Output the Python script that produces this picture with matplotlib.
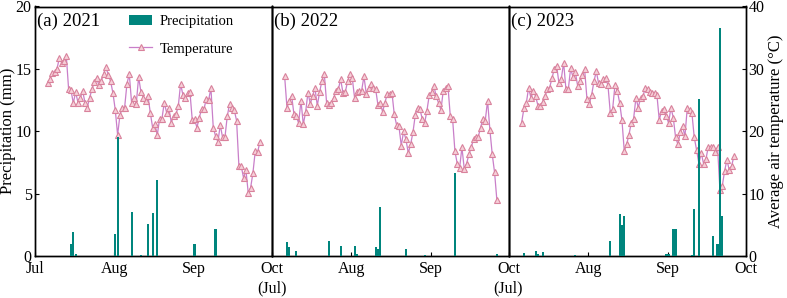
import numpy as np
import matplotlib
matplotlib.use("Agg")
import matplotlib.pyplot as plt
from matplotlib.patches import Patch
from matplotlib.lines import Line2D

plt.rcParams['font.family'] = ['Liberation Serif', 'DejaVu Serif']
plt.rcParams['mathtext.fontset'] = 'stix'

years = ["(a) 2021", "(b) 2022", "(c) 2023"]

temp_2021 = [27.7, 28.3, 29.4, 29.5, 30.0, 31.7, 31.0, 31.2, 32.1, 26.7,
             26.6, 24.5, 26.3, 24.6, 25.3, 26.5, 24.6, 23.8, 25.4, 26.7,
             27.9, 28.5, 27.4, 28.1, 29.2, 30.3, 29.0, 28.0, 26.1, 23.4,
             19.4, 22.6, 23.7, 23.8, 27.6, 29.2, 24.5, 25.3, 24.4, 28.7,
             26.3, 25.4, 24.9, 25.7, 23.0, 20.6, 21.1, 19.4, 22.0, 22.0,
             24.6, 23.0, 23.7, 21.4, 22.5, 22.7, 24.0, 27.6, 25.8, 25.3,
             26.1, 26.3, 21.8, 21.9, 20.6, 22.2, 23.5, 23.5, 25.2, 25.0,
             26.9, 20.6, 19.2, 18.3, 21.0, 19.0, 19.0, 22.4, 24.4, 23.7,
             23.4, 21.7, 14.4, 14.4, 12.5, 13.8, 10.1, 10.9, 13.3, 16.8,
             16.6, 18.3]
temp_2022 = [28.8, 23.8, 24.9, 25.7, 22.7, 22.4, 21.3, 24.9, 21.1, 23.1,
             26.2, 24.4, 25.7, 26.9, 24.1, 26.3, 28.1, 29.2, 24.5, 24.2,
             24.5, 25.3, 26.5, 26.7, 28.3, 26.2, 26.3, 28.0, 29.2, 28.5,
             25.3, 26.3, 26.5, 26.5, 28.8, 26.0, 26.9, 27.6, 26.9, 26.8,
             24.2, 24.6, 23.1, 24.6, 26.0, 26.0, 26.2, 22.7, 21.0, 20.8,
             17.7, 20.0, 18.7, 16.5, 17.9, 19.8, 22.6, 23.8, 23.5, 22.0,
             21.3, 23.3, 25.8, 26.3, 27.2, 25.6, 24.5, 23.4, 26.5, 27.0,
             27.3, 22.5, 22.0, 16.8, 14.8, 14.1, 17.4, 14.0, 14.8, 16.3,
             17.4, 18.8, 19.0, 19.1, 20.6, 22.0, 21.7, 24.9, 20.2, 16.3,
             13.4, 8.9]
temp_2023 = [21.4, 23.7, 24.5, 27.0, 25.3, 26.5, 25.6, 24.1, 24.0, 24.7,
             25.6, 26.7, 27.0, 28.5, 30.0, 30.5, 27.7, 28.4, 31.0, 26.7,
             26.7, 30.1, 28.7, 29.5, 27.3, 28.1, 29.0, 29.9, 25.2, 24.4,
             25.8, 28.0, 29.6, 27.7, 27.6, 28.3, 28.5, 27.4, 23.0, 23.5,
             27.4, 26.5, 24.6, 21.8, 16.8, 17.9, 19.4, 21.4, 22.0, 25.4,
             23.8, 25.3, 25.6, 26.9, 26.7, 26.3, 26.1, 26.1, 25.8, 21.8,
             23.3, 23.5, 22.5, 21.3, 23.8, 22.2, 19.0, 17.9, 19.9, 20.8,
             19.2, 23.7, 23.4, 22.9, 19.0, 17.0, 14.8, 16.5, 14.8, 15.5,
             17.5, 17.4, 17.4, 16.7, 17.4, 10.6, 11.2, 13.6, 15.4, 13.8,
             14.4, 16.0]

# precipitation events: day index (same daily index as temperature) and amount (mm)
prec_day_2021 = [10, 11, 12, 29, 30, 36, 40, 43, 45, 47, 63, 72]
prec_mm_2021 = [1.0, 1.9, 0.2, 1.75, 9.5, 3.55, 0.1, 2.55, 3.45, 6.1, 1.0, 2.15]
prec_day_2022 = [1, 2, 5, 19, 24, 30, 31, 39, 40, 41, 52, 60, 73, 91]
prec_mm_2022 = [1.1, 0.7, 0.4, 1.2, 0.8, 0.8, 0.2, 0.7, 0.55, 3.9, 0.55, 0.1, 6.65, 0.2]
prec_day_2023 = [1, 6, 7, 9, 23, 38, 42, 43, 44, 62, 63, 65, 66, 73, 74, 76, 82, 84, 85, 86]
prec_mm_2023 = [0.27, 0.4, 0.2, 0.3, 0.1, 1.2, 3.35, 2.5, 3.2, 0.2, 0.2, 2.2, 2.2, 0.1,
                3.75, 12.6, 1.6, 1.0, 18.3, 3.2]

month_ticks = [0, 31, 62, 92]
tick_labels_list = [["Jul", "Aug", "Sep", "Oct\n(Jul)"],
                    ["", "Aug", "Sep", "Oct\n(Jul)"],
                    ["", "Aug", "Sep", "Oct"]]

temps = [temp_2021, temp_2022, temp_2023]
pdays = [prec_day_2021, prec_day_2022, prec_day_2023]
pmms = [prec_mm_2021, prec_mm_2022, prec_mm_2023]

bar_color = '#00857d'
line_color = '#c97fc9'
mk_edge = '#d9829c'
mk_face = '#f6cfd8'

fig = plt.figure(figsize=(7.87, 2.98), dpi=100)
left0 = 34.5 / 787
w = 237 / 787
bottom = 1 - 256 / 298
height = (256 - 6.5) / 298

tick_fs = 11.5
for i in range(3):
    ax = fig.add_axes([left0 + i * w, bottom, w, height])
    ax2 = ax.twinx()
    n = len(temps[i])
    pos = np.linspace(5.1, 87.5, n)
    pd_ = np.array(pdays[i])
    ax.bar(pos[pd_], pmms[i], width=0.85, color=bar_color, zorder=3)
    ax2.plot(pos, temps[i], color=line_color, lw=0.9, marker='^', markersize=5,
             markerfacecolor=mk_face, markeredgecolor=mk_edge, markeredgewidth=0.8)
    ax.set_zorder(ax2.get_zorder() + 1)
    ax.patch.set_visible(False)
    ax.set_xlim(0, 92)
    ax.set_ylim(0, 20)
    ax2.set_ylim(0, 40)
    ax.set_xticks(month_ticks)
    ax.set_xticklabels(tick_labels_list[i], fontsize=tick_fs, linespacing=1.3)
    ax.tick_params(axis='x', direction='in', length=3, width=0.8, pad=3.5)
    ax.tick_params(axis='y', direction='in', length=3, width=0.8, pad=2, labelsize=tick_fs)
    ax2.tick_params(axis='y', direction='in', length=3, width=0.8, pad=2, labelsize=tick_fs)
    ax.set_yticks([0, 5, 10, 15, 20])
    ax2.set_yticks([0, 10, 20, 30, 40])
    if i != 0:
        ax.tick_params(axis='y', left=False, labelleft=False)
    if i != 2:
        ax2.tick_params(axis='y', right=False, labelright=False)
    for a in (ax, ax2):
        for s in a.spines.values():
            s.set_linewidth(1.0)
    ax.text(0.01, 0.975, years[i], transform=ax.transAxes, ha='left', va='top',
            fontsize=13.5)
    if i == 0:
        ax.set_ylabel("Precipitation (mm)", fontsize=12)
        ax.yaxis.set_label_coords(-0.077, 0.5)
        handles = [Patch(facecolor=bar_color, edgecolor='none'),
                   Line2D([], [], color=line_color, lw=0.9, marker='^', markersize=5,
                          markerfacecolor=mk_face, markeredgecolor=mk_edge,
                          markeredgewidth=0.8)]
        ax.legend(handles, ["Precipitation", "Temperature"], loc='upper right',
                  bbox_to_anchor=(0.875, 1.0),
                  frameon=False, fontsize=10.5, handlelength=1.6, handletextpad=0.5,
                  borderaxespad=0.15, labelspacing=1.0)
    if i == 2:
        ax2.set_ylabel("Average air temperature (\u00b0C)", fontsize=12, labelpad=3)

fig.savefig("out.png", dpi=100)
